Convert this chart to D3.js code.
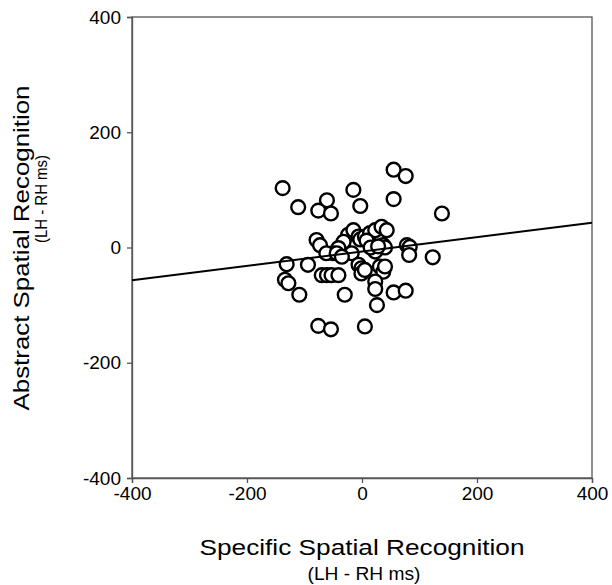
<!DOCTYPE html>
<html>
<head>
<meta charset="utf-8">
<script src="https://cdn.jsdelivr.net/npm/d3@7"></script>
<style>
  body { margin: 0; background: #fff; }
  svg { display: block; font-family: "Liberation Sans", Arial, sans-serif; }
</style>
</head>
<body>
<div id="chart"></div>
<script>
// data points: specific (x) vs abstract (y), LH - RH ms
const specific = [
  -138, -111, -61, -76, -54, -15, -3, 55, 76, 55, 139,
  -79, -73, -24, -15, -32, -41, -50, -6, -3, 5, 14, 23, 34, 43, 8, 37, 40, 78, 83, 23, 15, 28,
  -62, -44, -18, -6, -1, -1, 5, -70, -61, -53, -41, 31, 37, 40, 23, 82, 123,
  -131, -134, -128, -109, -94, -35, -30,
  -76, -54, 5, 26, 23, 55, 76
];
const abstract = [
  103, 70, 82, 64, 59, 100, 72, 135, 124, 84, 59,
  13, 4, 22, 30, 10, -1, -10, 19, 14, 19, 25, 30, 36, 30, 12, 4, 0, 4, 1, -7, 0, 2,
  -10, -10, -10, -30, -36, -45, -39, -48, -48, -48, -48, -33, -42, -33, -59, -13, -17,
  -29, -56, -62, -82, -30, -16, -82,
  -136, -142, -137, -100, -72, -78, -75
];
// fitted line endpoints
const fitX = [-400, 400];
const fitY = [-57, 43];
const ticks = [-400, -200, 0, 200, 400];

const W = 612, H = 585;
const margin = { top: 17, right: 20, bottom: 107, left: 132 };
const width = W - margin.left - margin.right,
  height = H - margin.top - margin.bottom;

const svg = d3.select('#chart').append('svg')
  .attr('width', W).attr('height', H);

const g = svg.append('g')
  .attr('transform', 'translate(' + margin.left + ',' + margin.top + ')');

const x = d3.scaleLinear().domain([-400, 400]).range([0, width]);
const y = d3.scaleLinear().domain([-400, 400]).range([height, 0]);

const axisColor = '#555';

// frame
g.append('rect')
  .attr('width', width).attr('height', height)
  .attr('fill', 'none').attr('stroke', axisColor).attr('stroke-width', 1.3);

const xAxis = g.append('g')
  .attr('transform', 'translate(0,' + height + ')')
  .call(d3.axisBottom(x).tickValues(ticks).tickSize(5).tickPadding(4));
const yAxis = g.append('g')
  .call(d3.axisLeft(y).tickValues(ticks).tickSize(5).tickPadding(6));

[xAxis, yAxis].forEach(a => {
  a.select('.domain').attr('stroke', axisColor).attr('stroke-width', 1.3);
  a.selectAll('.tick line').attr('stroke', axisColor).attr('stroke-width', 1.3);
  a.selectAll('.tick text').attr('fill', '#000')
    .style('font-size', '19px').style('font-family', '"Liberation Sans", Arial, sans-serif');
});
// d3 uses unicode minus; the original uses a hyphen
svg.selectAll('.tick text').text(d => String(d));

const pts = specific.map((v, i) => [v, abstract[i]]);

g.append('g').selectAll('circle')
  .data(pts)
  .enter().append('circle')
    .attr('cx', d => x(d[0]))
    .attr('cy', d => y(d[1]))
    .attr('r', 6.9)
    .attr('fill', '#fff')
    .attr('stroke', '#000')
    .attr('stroke-width', 2.4);

g.append('line')
  .attr('x1', x(fitX[0])).attr('y1', y(fitY[0]))
  .attr('x2', x(fitX[1])).attr('y2', y(fitY[1]))
  .attr('stroke', '#000').attr('stroke-width', 2);

// axis titles
svg.append('text')
  .attr('x', 362).attr('y', 555)
  .attr('text-anchor', 'middle')
  .attr('textLength', 325).attr('lengthAdjust', 'spacingAndGlyphs')
  .style('font-size', '22px')
  .text('Specific Spatial Recognition');
svg.append('text')
  .attr('x', 364).attr('y', 580)
  .attr('text-anchor', 'middle')
  .attr('textLength', 113).attr('lengthAdjust', 'spacingAndGlyphs')
  .style('font-size', '18px')
  .text('(LH - RH ms)');

svg.append('text')
  .attr('transform', 'translate(29,248) rotate(-90)')
  .attr('text-anchor', 'middle')
  .attr('textLength', 325).attr('lengthAdjust', 'spacingAndGlyphs')
  .style('font-size', '22px')
  .text('Abstract Spatial Recognition');
svg.append('text')
  .attr('transform', 'translate(47,199) rotate(-90)')
  .attr('text-anchor', 'middle')
  .attr('textLength', 88).attr('lengthAdjust', 'spacingAndGlyphs')
  .style('font-size', '16px')
  .text('(LH - RH ms)');
</script>
</body>
</html>
